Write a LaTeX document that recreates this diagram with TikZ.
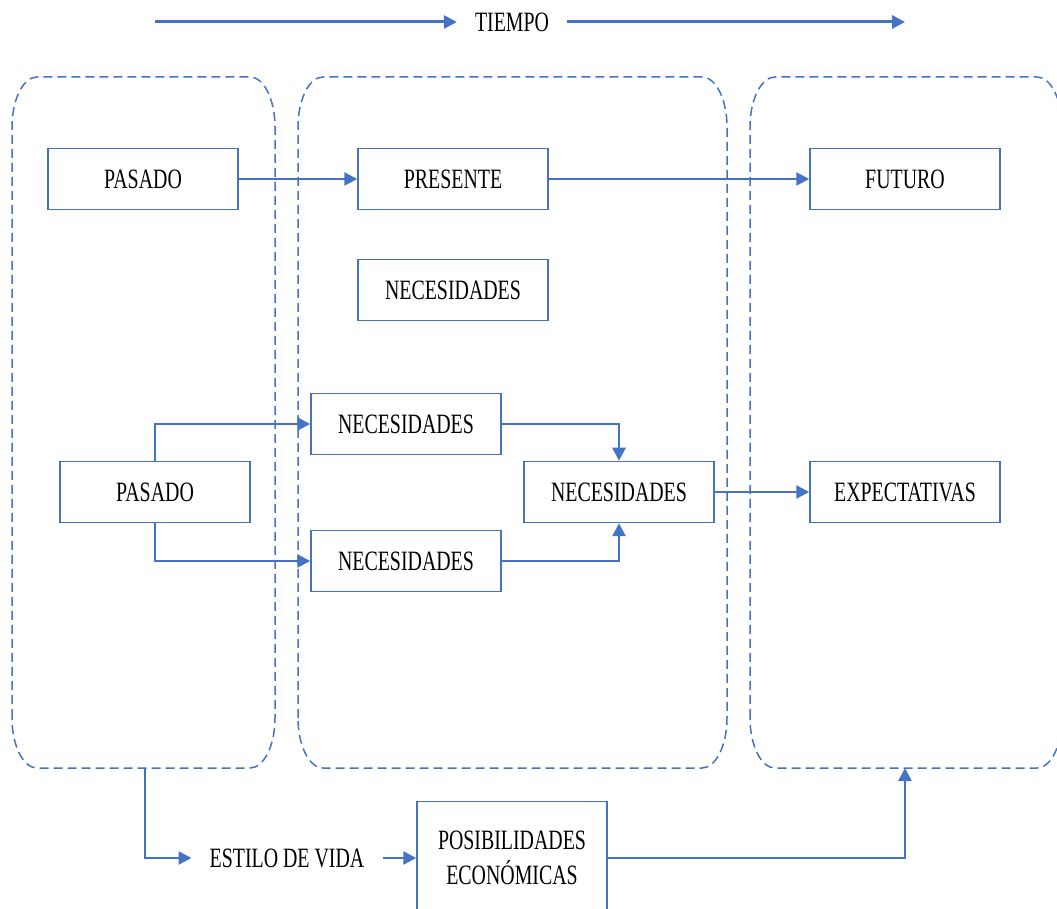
\documentclass[tikz,border=0pt]{standalone}
\usepackage{fontspec}
\setmainfont{Liberation Serif}[FakeStretch=0.71]
\usetikzlibrary{arrows.meta}
\definecolor{lineblue}{HTML}{4472C4}

% dashed zone with elliptical corners: x from #1 to #2
\newcommand\zoneoutline[2]{%
  \draw[zone] (#1,190) -- (#1,781)
    arc[start angle=180,end angle=90,x radius=25,y radius=50]
    -- ({#2-25},831)
    arc[start angle=90,end angle=0,x radius=25,y radius=50]
    -- (#2,190)
    arc[start angle=0,end angle=-90,x radius=25,y radius=50]
    -- ({#1+25},140)
    arc[start angle=-90,end angle=-180,x radius=25,y radius=50]
    -- cycle;}

\begin{document}
\begin{tikzpicture}[x=1pt,y=1pt,
  every node/.style={font=\fontsize{28}{35}\selectfont, text=black},
  stagebox/.style={draw=lineblue, line width=1.5pt, minimum width=190pt,
    minimum height=61pt, inner sep=0pt, align=center},
  flow/.style={draw=lineblue, line width=2.4pt,
    -{Triangle[length=13pt,width=13pt]}},
  zone/.style={draw=lineblue, line width=1.5pt, dash pattern=on 9pt off 5pt},
  plaintext/.style={inner xsep=18pt, inner ysep=0pt}
]
\useasboundingbox (0,0) rectangle (1057,908);

% time zones
\zoneoutline{12}{275}
\zoneoutline{298}{727}
\zoneoutline{750}{1062}

% time axis
\node[plaintext] (tiempo) at (512,886) {TIEMPO};
\coordinate (tstart) at (155,886);
\coordinate (tend) at (905,886);
\draw[flow, line width=3pt] (tstart) -- (tiempo.west);
\draw[flow, line width=3pt] (tiempo.east) -- (tend);

% boxes
\node[stagebox] (pasadoA) at (143,729) {PASADO};
\node[stagebox] (presente) at (453,729) {PRESENTE};
\node[stagebox] (futuro) at (905,729) {FUTURO};
\node[stagebox] (necTop) at (453,618) {NECESIDADES};
\node[stagebox] (necA) at (406,484) {NECESIDADES};
\node[stagebox] (pasadoB) at (155,416) {PASADO};
\node[stagebox] (necC) at (619,416) {NECESIDADES};
\node[stagebox] (necB) at (406,347) {NECESIDADES};
\node[stagebox] (expect) at (905,416) {EXPECTATIVAS};
\node[stagebox, minimum height=113pt] (posib) at (512,50) {POSIBILIDADES\\ECONÓMICAS};
\node[plaintext] (estilo) at (287,50) {ESTILO DE VIDA};

% connectors
\draw[flow] (pasadoA) -- (presente);
\draw[flow] (presente) -- (futuro);
\draw[flow] (pasadoB.north) |- (necA.west);
\draw[flow] (pasadoB.south) |- (necB.west);
\draw[flow] (necA.east) -| (necC.north);
\draw[flow] (necB.east) -| (necC.south);
\draw[flow] (necC) -- (expect);
\coordinate (zoneAbottom) at (145,140);
\coordinate (zoneCbottom) at (905,140);
\draw[flow] (zoneAbottom) |- (estilo.west);
\draw[flow] (estilo) -- (posib);
\draw[flow] (posib.east) -| (zoneCbottom);
\end{tikzpicture}
\end{document}
